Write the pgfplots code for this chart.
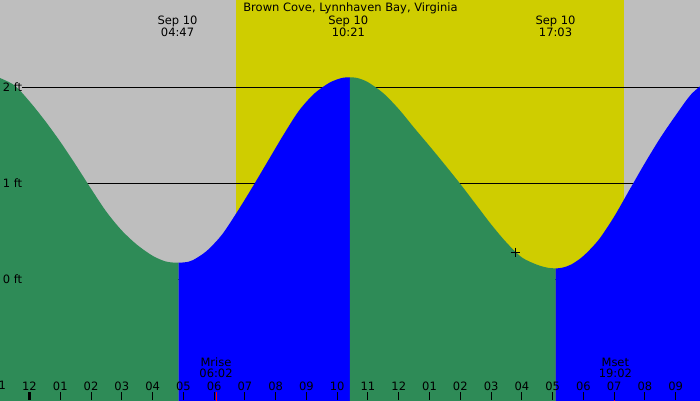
\documentclass[border=0pt]{standalone}
\usepackage{pgfplots}
\pgfplotsset{compat=1.18}
\usepackage{fontspec}
\setmainfont{DejaVu Sans}
\definecolor{tgreen}{HTML}{2E8B57}
\definecolor{tblue}{HTML}{0000FF}
\definecolor{nightgray}{HTML}{BEBEBE}
\definecolor{dayyellow}{HTML}{CFCD00}
\newcommand{\tf}{\fontsize{11.5}{13}\selectfont}
\begin{document}
\begin{tikzpicture}
\begin{axis}[
  scale only axis, width=700pt, height=400pt,
  xmin=-0.9587, xmax=21.79, ymin=-1.2604, ymax=2.9063,
  axis line style={draw=none},
  axis on top,
  ytick=\empty,
  xtick={0,1,...,21},
  xticklabels={12,01,02,03,04,05,06,07,08,09,10,11,12,01,02,03,04,05,06,07,08,09},
  xtick pos=left, tick align=inside,
  major tick length=8pt,
  tick style={black, line width=1pt},
  xticklabel style={font=\tf, anchor=base, yshift=10pt, inner sep=0pt},
  extra x ticks={0}, extra x tick labels={},
  extra x tick style={tick style={black, line width=3pt}},
  clip=true,
]
% background night / day
\addplot[fill=nightgray, draw=none] coordinates {(-2,-2) (23,-2) (23,4) (-2,4)} -- cycle;
\addplot[fill=dayyellow, draw=none] coordinates {(6.711,-2) (19.32,-2) (19.32,4) (6.711,4)} -- cycle;
% level lines
\addplot[black, line width=1pt] coordinates {(-0.244,2) (23,2)};
\addplot[black, line width=1pt] coordinates {(-0.244,1) (23,1)};
\addplot[black, line width=1pt] coordinates {(-0.244,0) (23,0)};
% falling tide (green)
\addplot[fill=tgreen, draw=none, smooth] coordinates {
(-1.1,2.112) (-0.5,2.02) (0.0,1.85) (0.5,1.65) (1.0,1.43) (1.5,1.19) (2.0,0.94)
(2.5,0.70) (3.0,0.505) (3.5,0.355) (4.0,0.242) (4.4,0.185) (4.65,0.172) (4.85,0.170)}
-- (axis cs:4.85,-2) -- (axis cs:-1.1,-2) -- cycle;
% rising tide (blue)
\addplot[fill=tblue, draw=none, smooth] coordinates {
(4.85,0.170) (5.05,0.174) (5.3,0.195) (5.75,0.29) (6.25,0.46) (6.75,0.70) (7.25,0.96)
(7.75,1.23) (8.25,1.50) (8.75,1.75) (9.25,1.93) (9.75,2.045) (10.15,2.094) (10.41,2.101)}
-- (axis cs:10.41,-2) -- (axis cs:4.85,-2) -- cycle;
% falling tide (green)
\addplot[fill=tgreen, draw=none, smooth] coordinates {
(10.41,2.101) (10.65,2.094) (11.0,2.05) (11.5,1.935) (12.0,1.77) (12.5,1.575)
(13.0,1.385) (13.5,1.19) (14.0,0.99) (14.5,0.78) (15.0,0.57) (15.5,0.38)
(16.0,0.225) (16.5,0.148) (16.85,0.117) (17.10,0.111)}
-- (axis cs:17.10,-2) -- (axis cs:10.41,-2) -- cycle;
% rising tide (blue)
\addplot[fill=tblue, draw=none, smooth] coordinates {
(17.10,0.111) (17.3,0.117) (17.6,0.15) (18.0,0.24) (18.5,0.41) (19.0,0.65)
(19.5,0.93) (20.0,1.208) (20.5,1.47) (21.0,1.705) (21.5,1.923) (22.0,2.06)}
-- (axis cs:22.0,-2) -- (axis cs:17.10,-2) -- cycle;
% moon rise / set ticks
\addplot[red, line width=1.3pt] coordinates {(6.07,-1.27) (6.07,-1.177)};
\addplot[red, line width=1.3pt] coordinates {(19.02,-1.27) (19.02,-1.177)};
% marker
\addplot[only marks, mark=+, mark size=4.5pt, black, line width=1pt] coordinates {(15.78,0.281)};
% texts
\node[anchor=base west, font=\tf, inner sep=0pt] at (axis cs:-0.871,1.951) {2 ft};
\node[anchor=base west, font=\tf, inner sep=0pt] at (axis cs:-0.871,0.951) {1 ft};
\node[anchor=base west, font=\tf, inner sep=0pt] at (axis cs:-0.871,-0.049) {0 ft};
\node[anchor=base, font=\tf, inner sep=0pt] at (axis cs:10.432,2.784) {Brown Cove, Lynnhaven Bay, Virginia};
\node[anchor=base, font=\tf, inner sep=0pt] at (axis cs:4.810,2.656) {Sep 10};
\node[anchor=base, font=\tf, inner sep=0pt] at (axis cs:4.810,2.531) {04:47};
\node[anchor=base, font=\tf, inner sep=0pt] at (axis cs:10.361,2.656) {Sep 10};
\node[anchor=base, font=\tf, inner sep=0pt] at (axis cs:10.361,2.531) {10:21};
\node[anchor=base, font=\tf, inner sep=0pt] at (axis cs:17.095,2.656) {Sep 10};
\node[anchor=base, font=\tf, inner sep=0pt] at (axis cs:17.095,2.531) {17:03};
\node[anchor=base, font=\tf, inner sep=0pt] at (axis cs:6.061,-0.913) {Mrise};
\node[anchor=base, font=\tf, inner sep=0pt] at (axis cs:6.061,-1.028) {06:02};
\node[anchor=base, font=\tf, inner sep=0pt] at (axis cs:19.038,-0.913) {Mset};
\node[anchor=base, font=\tf, inner sep=0pt] at (axis cs:19.038,-1.028) {19:02};
\node[anchor=base, font=\tf, inner sep=0pt] at (axis cs:-1,-1.156) {11};
\end{axis}
\pgfresetboundingbox
\path[use as bounding box] (current axis.south west) rectangle (current axis.north east);
\end{tikzpicture}
\end{document}
